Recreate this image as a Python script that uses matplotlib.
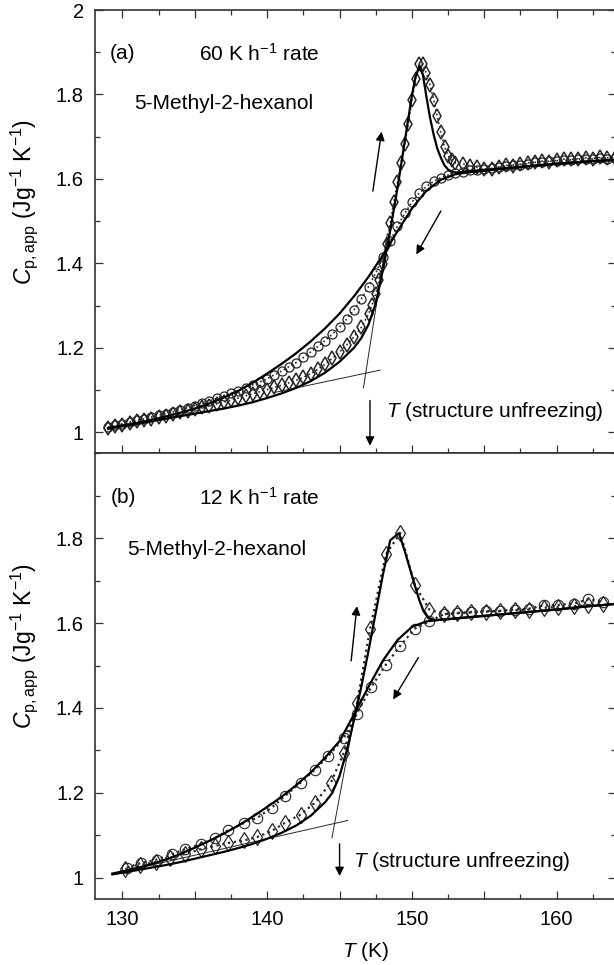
import matplotlib
matplotlib.use('Agg')
import matplotlib.pyplot as plt
from matplotlib.ticker import MultipleLocator, FixedLocator, FuncFormatter

plt.rcParams['font.family'] = 'Liberation Sans'
plt.rcParams['mathtext.fontset'] = 'custom'
plt.rcParams['mathtext.rm'] = 'Liberation Sans'
plt.rcParams['mathtext.it'] = 'Liberation Sans:italic'

# ---- panel (a): 60 K/h, dense scan data ----
top_heat_T = [129.0, 129.5, 130.0, 130.5, 131.0, 131.5, 132.0, 132.5, 133.0, 133.5,
              134.0, 134.5, 135.0, 135.5, 136.0, 136.5, 137.0, 137.5, 138.0, 138.5,
              139.0, 139.5, 140.0, 140.5, 141.0, 141.5, 142.0, 142.5, 143.0, 143.5,
              144.0, 144.5, 145.0, 145.5, 146.0, 146.5, 147.0,
              147.25, 147.5, 147.75, 148.0, 148.25, 148.5, 148.75, 149.0, 149.25, 149.5,
              149.75, 150.0, 150.25, 150.5, 150.75, 151.0, 151.25, 151.5, 151.75, 152.0,
              152.25, 152.5, 152.75, 153.0,
              153.5, 154.0, 154.5, 155.0, 155.5, 156.0, 156.5, 157.0, 157.5, 158.0,
              158.5, 159.0, 159.5, 160.0, 160.5, 161.0, 161.5, 162.0, 162.5, 163.0,
              163.5, 164.0]
top_heat_cp = [1.010, 1.014, 1.018, 1.022, 1.026, 1.029, 1.032, 1.036, 1.039, 1.043,
               1.047, 1.051, 1.055, 1.059, 1.063, 1.067, 1.071, 1.076, 1.081, 1.086,
               1.091, 1.096, 1.101, 1.106, 1.111, 1.117, 1.123, 1.130, 1.139, 1.149,
               1.161, 1.175, 1.190, 1.207, 1.226, 1.248, 1.280,
               1.302, 1.328, 1.360, 1.398, 1.445, 1.495, 1.545, 1.592, 1.638, 1.683,
               1.730, 1.788, 1.836, 1.872, 1.872, 1.850, 1.822, 1.788, 1.748, 1.710,
               1.676, 1.655, 1.644, 1.638,
               1.636, 1.631, 1.627, 1.624, 1.623, 1.628, 1.632, 1.631, 1.635, 1.638,
               1.640, 1.642, 1.641, 1.644, 1.647, 1.646, 1.648, 1.650, 1.648, 1.651,
               1.650, 1.650]

top_cool_T = [129.0, 129.5, 130.0, 130.5, 131.0, 131.5, 132.0, 132.5, 133.0, 133.5,
              134.0, 134.5, 135.0, 135.5, 136.0, 136.5, 137.0, 137.5, 138.0, 138.5,
              139.0, 139.5, 140.0, 140.5, 141.0, 141.5, 142.0, 142.5, 143.0, 143.5,
              144.0, 144.5, 145.0, 145.5, 146.0, 146.5, 147.0, 147.5, 148.0, 148.5,
              149.0, 149.5, 150.0, 150.5, 151.0, 151.5, 152.0, 152.5, 153.0, 153.5,
              154.0, 154.5, 155.0, 155.5, 156.0, 156.5, 157.0, 157.5, 158.0, 158.5,
              159.0, 159.5, 160.0, 160.5, 161.0, 161.5, 162.0, 162.5, 163.0, 163.5,
              164.0]
top_cool_cp = [1.012, 1.016, 1.020, 1.024, 1.028, 1.032, 1.036, 1.040, 1.044, 1.048,
               1.053, 1.058, 1.063, 1.068, 1.074, 1.080, 1.086, 1.092, 1.098, 1.105,
               1.112, 1.119, 1.127, 1.136, 1.145, 1.155, 1.165, 1.177, 1.190, 1.203,
               1.217, 1.232, 1.249, 1.268, 1.290, 1.315, 1.345, 1.377, 1.415, 1.452,
               1.488, 1.518, 1.545, 1.566, 1.582, 1.594, 1.603, 1.609, 1.613, 1.617,
               1.620, 1.621, 1.623, 1.625, 1.628, 1.630, 1.633, 1.634, 1.636, 1.639,
               1.640, 1.642, 1.643, 1.644, 1.645, 1.647, 1.648, 1.647, 1.649, 1.648,
               1.649]

top_heat_fit_T = [129.0, 130, 131, 132, 133, 134, 135, 136, 137, 138, 139, 140, 141, 142,
                  143, 144, 145, 146, 146.5, 147, 147.5, 148, 148.5, 149, 149.5, 150,
                  150.25, 150.5, 150.75, 151, 151.25, 151.5, 151.75, 152, 152.25, 152.5,
                  152.75, 153, 154, 156, 158, 160, 162, 164]
top_heat_fit_cp = [1.008, 1.014, 1.020, 1.026, 1.032, 1.038, 1.044, 1.050, 1.056, 1.063,
                   1.071, 1.081, 1.092, 1.105, 1.121, 1.141, 1.167, 1.200, 1.223, 1.255,
                   1.305, 1.385, 1.478, 1.578, 1.688, 1.798, 1.842, 1.866, 1.848, 1.795,
                   1.745, 1.705, 1.672, 1.650, 1.632, 1.622, 1.617, 1.615, 1.618, 1.624,
                   1.630, 1.636, 1.641, 1.645]

top_cool_fit_T = [129.0, 130, 131, 132, 133, 134, 135, 136, 137, 138, 139, 140, 141, 142,
                  143, 144, 145, 146, 147, 148, 149, 150, 151, 152, 153, 154, 155, 156,
                  158, 160, 162, 164]
top_cool_fit_cp = [1.010, 1.016, 1.022, 1.029, 1.037, 1.046, 1.056, 1.068, 1.082, 1.098,
                   1.117, 1.139, 1.162, 1.187, 1.215, 1.246, 1.281, 1.322, 1.368, 1.420,
                   1.476, 1.530, 1.572, 1.598, 1.611, 1.616, 1.619, 1.623, 1.630, 1.636,
                   1.641, 1.645]

top_base_T, top_base_cp = [140.5, 147.8], [1.094, 1.147]
top_steep_T, top_steep_cp = [146.65, 148.3], [1.105, 1.470]

# ---- panel (b): 12 K/h ----
bot_heat_T = [130.2, 131.2, 132.3, 133.3, 134.3, 135.4, 136.4, 137.3, 138.4, 139.3,
              140.3, 141.2, 142.3, 143.3, 144.4, 145.3, 146.2, 147.1, 148.2, 149.2,
              150.2, 151.2, 152.2, 153.1, 154.1, 155.1, 156.1, 157.1, 158.1, 159.1,
              160.1, 161.2, 162.2, 163.2]
bot_heat_cp = [1.020, 1.030, 1.037, 1.047, 1.056, 1.067, 1.075, 1.082, 1.088, 1.096,
               1.110, 1.129, 1.149, 1.177, 1.224, 1.295, 1.411, 1.585, 1.762, 1.812,
               1.690, 1.632, 1.621, 1.623, 1.625, 1.627, 1.628, 1.630, 1.632, 1.636,
               1.638, 1.640, 1.642, 1.645]

bot_cool_T = [130.3, 131.3, 132.4, 133.4, 134.3, 135.4, 136.4, 137.3, 138.4, 139.3,
              140.3, 141.2, 142.3, 143.3, 144.2, 145.3, 146.2, 147.2, 148.2, 149.2,
              150.2, 151.2, 152.2, 153.1, 154.1, 155.1, 156.1, 157.1, 158.1, 159.1,
              160.1, 161.2, 162.2, 163.2]
bot_cool_cp = [1.024, 1.035, 1.043, 1.055, 1.067, 1.079, 1.094, 1.112, 1.129, 1.141,
               1.165, 1.192, 1.224, 1.255, 1.286, 1.330, 1.387, 1.450, 1.502, 1.547,
               1.587, 1.604, 1.621, 1.624, 1.626, 1.628, 1.629, 1.632, 1.634, 1.642,
               1.643, 1.646, 1.656, 1.650]

bot_heat_fit_T = [129.3, 130, 131, 132, 133, 134, 135, 136, 137, 138, 139, 140, 141, 142,
                  143, 144, 144.5, 145, 145.5, 146, 146.5, 147, 147.5, 148, 148.5, 149.1,
                  149.5, 150, 150.25, 150.5, 150.8, 151.15, 151.6, 152.5, 154, 156, 158,
                  160, 162, 164]
bot_heat_fit_cp = [1.008, 1.012, 1.018, 1.024, 1.030, 1.037, 1.045, 1.053, 1.061, 1.070,
                   1.080, 1.092, 1.106, 1.123, 1.146, 1.178, 1.200, 1.240, 1.300, 1.372,
                   1.450, 1.535, 1.625, 1.715, 1.795, 1.812, 1.770, 1.712, 1.683, 1.655,
                   1.628, 1.611, 1.607, 1.609, 1.614, 1.620, 1.626, 1.632, 1.639, 1.645]

bot_cool_fit_T = [129.3, 130, 131, 132, 133, 134, 135, 136, 137, 138, 139, 140, 141, 142,
                  143, 144, 145, 146, 147, 148, 149, 150, 151, 152, 153, 154, 156, 158,
                  160, 162, 164]
bot_cool_fit_cp = [1.010, 1.015, 1.023, 1.032, 1.043, 1.056, 1.071, 1.087, 1.104, 1.123,
                   1.144, 1.167, 1.191, 1.218, 1.248, 1.283, 1.322, 1.385, 1.450, 1.512,
                   1.560, 1.591, 1.604, 1.608, 1.611, 1.614, 1.620, 1.626, 1.632, 1.639,
                   1.645]

bot_base_T, bot_base_cp = [129.3, 145.56], [1.009, 1.135]
bot_steep_T, bot_steep_cp = [144.47, 146.3], [1.094, 1.430]

INK = '0.15'
FS = 14.5
TXT = 15


def style_axes(ax, top_ticks, label_two):
    ax.set_xlim(128.1, 164.1)
    ax.set_ylim(0.95, 2.0)
    ax.xaxis.set_major_locator(MultipleLocator(5))
    ax.xaxis.set_minor_locator(MultipleLocator(2.5))
    ax.xaxis.set_major_formatter(FuncFormatter(lambda v, p: '%d' % v if round(v) % 10 == 0 else ''))
    if label_two:
        ax.yaxis.set_major_locator(MultipleLocator(0.2))
    else:
        ax.yaxis.set_major_locator(FixedLocator([1.0, 1.2, 1.4, 1.6, 1.8]))
    ax.yaxis.set_minor_locator(MultipleLocator(0.1))
    ax.yaxis.set_major_formatter(FuncFormatter(lambda v, p: '%g' % round(v, 1)))
    ax.tick_params(which='both', direction='in', right=True, top=top_ticks,
                   labelsize=FS, width=0.9, color='0.2', pad=8)
    ax.tick_params(which='major', length=5.5)
    ax.tick_params(which='minor', length=3.5)
    for s in ax.spines.values():
        s.set_linewidth(1.2)
        s.set_color('0.2')
    ax.set_ylabel(r'$C_{\mathrm{p,app}}$ (Jg$^{-1}$ K$^{-1}$)', fontsize=16.5)
    ax.yaxis.set_label_coords(-0.105, 0.567)


def arrow(ax, start, end):
    ax.annotate('', xy=end, xytext=start,
                arrowprops=dict(arrowstyle='-|>', color='k', lw=1.0,
                                mutation_scale=13, shrinkA=0, shrinkB=0))


fig = plt.figure(figsize=(6.14, 9.65), dpi=100)
ax1 = fig.add_axes([0.15472, 0.53026, 0.84853, 0.45937])
ax2 = fig.add_axes([0.15472, 0.06839, 0.84853, 0.46187])

# panel (a)
ax1.plot(top_base_T, top_base_cp, color=INK, lw=0.7)
ax1.plot(top_steep_T, top_steep_cp, color=INK, lw=0.7)
ax1.plot(top_cool_T, top_cool_cp, linestyle=':', color=INK, lw=1.2, marker='o', ms=6.5,
         mfc='none', mec=INK, mew=0.9)
ax1.plot(top_heat_T, top_heat_cp, linestyle=':', color=INK, lw=1.2, marker='d', ms=7.5,
         mfc='none', mec=INK, mew=1.1)
ax1.plot(top_cool_fit_T, top_cool_fit_cp, color='k', lw=1.6)
ax1.plot(top_heat_fit_T, top_heat_fit_cp, color='k', lw=1.6)
style_axes(ax1, True, True)
ax1.tick_params(labelbottom=False)
ax1.text(129.1, 1.897, '(a)', fontsize=TXT, va='center')
ax1.text(135.3, 1.897, r'60 K h$^{-1}$ rate', fontsize=TXT, va='center')
ax1.text(130.8, 1.778, '5-Methyl-2-hexanol', fontsize=TXT, va='center')
ax1.text(148.2, 1.048, r'$T$ (structure unfreezing)', fontsize=TXT, va='center')
arrow(ax1, (147.3, 1.571), (147.9, 1.712))
arrow(ax1, (152.0, 1.524), (150.3, 1.421))
arrow(ax1, (147.1, 1.075), (147.1, 0.968))

# panel (b)
ax2.plot(bot_base_T, bot_base_cp, color=INK, lw=0.7)
ax2.plot(bot_steep_T, bot_steep_cp, color=INK, lw=0.7)
ax2.plot(bot_cool_T, bot_cool_cp, linestyle=':', color=INK, lw=1.6, marker='o', ms=7.5,
         mfc='none', mec=INK, mew=0.8)
ax2.plot(bot_heat_T, bot_heat_cp, linestyle=':', color=INK, lw=1.6, marker='d', ms=8,
         mfc='none', mec=INK, mew=0.9)
ax2.plot(bot_cool_fit_T, bot_cool_fit_cp, color='k', lw=1.6)
ax2.plot(bot_heat_fit_T, bot_heat_fit_cp, color='k', lw=1.6)
style_axes(ax2, False, False)
ax2.text(129.2, 1.896, '(b)', fontsize=TXT, va='center')
ax2.text(135.3, 1.896, r'12 K h$^{-1}$ rate', fontsize=TXT, va='center')
ax2.text(130.35, 1.774, '5-Methyl-2-hexanol', fontsize=TXT, va='center')
ax2.text(145.9, 1.039, r'$T$ (structure unfreezing)', fontsize=TXT, va='center')
arrow(ax2, (145.8, 1.511), (146.2, 1.640))
arrow(ax2, (150.45, 1.519), (148.7, 1.420))
arrow(ax2, (145.0, 1.080), (145.0, 1.004))
ax2.text(0.519, -0.117, r'$T$ (K)', fontsize=TXT, ha='center', va='center',
         transform=ax2.transAxes)

fig.savefig('out.png', dpi=100)
